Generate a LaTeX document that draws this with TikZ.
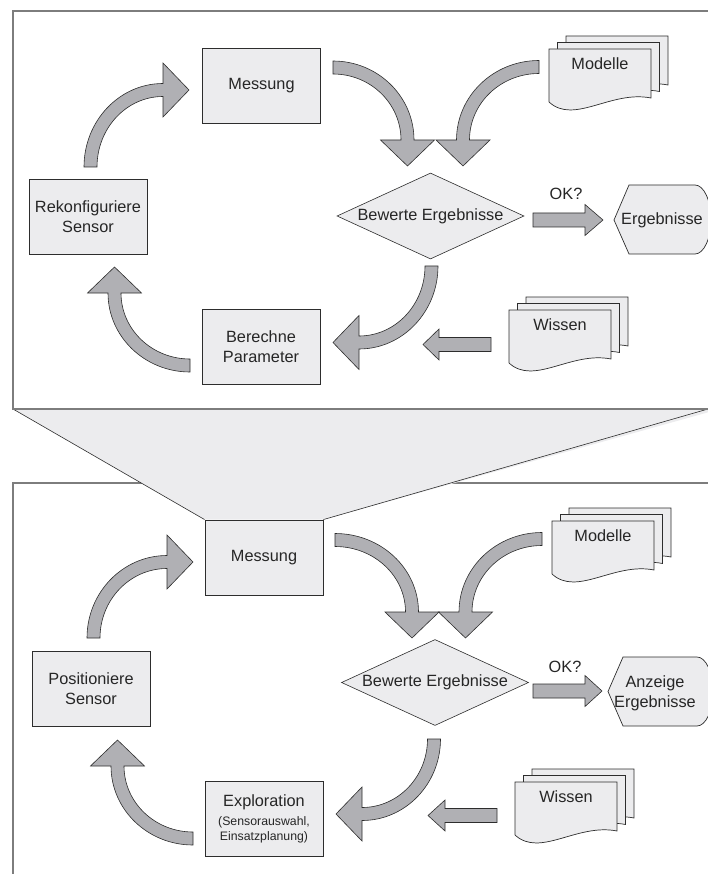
\documentclass[tikz,border=0pt]{standalone}
\usepackage{fontspec}
\setmainfont{Liberation Sans}
\usetikzlibrary{shapes.geometric,backgrounds}

\definecolor{boxgray}{RGB}{236,236,238}
\definecolor{arrowgray}{RGB}{176,176,180}
\definecolor{framegray}{RGB}{125,125,125}
\definecolor{linedark}{RGB}{45,45,45}

\newcommand{\smallfnt}{\fontsize{12.3}{15}\selectfont}

% curved block arrow: centre x, centre y, x radius, y radius, start, end, tip direction
\newcommand{\bendarrow}[7]{%
  \pgfmathsetmacro{\rxo}{#3+6.5}\pgfmathsetmacro{\ryo}{#4+6.5}
  \pgfmathsetmacro{\rxi}{#3-6.5}\pgfmathsetmacro{\ryi}{#4-6.5}
  \pgfmathsetmacro{\bAx}{#1+\rxo*cos(#5)}\pgfmathsetmacro{\bAy}{#2+\ryo*sin(#5)}
  \pgfmathsetmacro{\bHx}{#1+(#3+27)*cos(#6)}\pgfmathsetmacro{\bHy}{#2+(#4+27)*sin(#6)}
  \pgfmathsetmacro{\bTx}{#1+#3*cos(#6)+26*cos(#7)}\pgfmathsetmacro{\bTy}{#2+#4*sin(#6)+26*sin(#7)}
  \pgfmathsetmacro{\bKx}{#1+(#3-27)*cos(#6)}\pgfmathsetmacro{\bKy}{#2+(#4-27)*sin(#6)}
  \pgfmathsetmacro{\bIx}{#1+\rxi*cos(#6)}\pgfmathsetmacro{\bIy}{#2+\ryi*sin(#6)}
  \draw[blockarrow] (\bAx,\bAy)
    arc[start angle=#5, end angle=#6, x radius=\rxo, y radius=\ryo]
    -- (\bHx,\bHy) -- (\bTx,\bTy) -- (\bKx,\bKy) -- (\bIx,\bIy)
    arc[start angle=#6, end angle=#5, x radius=\rxi, y radius=\ryi] -- cycle;
}

% straight block arrow: tail x, head base x, tip x, y
\newcommand{\flatarrow}[4]{%
  \pgfmathsetmacro{\fya}{#4-7}\pgfmathsetmacro{\fyb}{#4+7}
  \pgfmathsetmacro{\fyc}{#4-15.5}\pgfmathsetmacro{\fyd}{#4+15.5}
  \draw[blockarrow] (#1,\fya) -- (#2,\fya) -- (#2,\fyc) -- (#3,#4)
    -- (#2,\fyd) -- (#2,\fyb) -- (#1,\fyb) -- cycle;
}

% stack of three sheets: left x, top y, text, name
\newcommand{\docstack}[4]{%
  \foreach \dx/\dy in {17/13, 8.5/6.5, 0/0}{
    \draw[docsheet] (#1+\dx,#2-\dy) -- (#1+\dx+102,#2-\dy) -- (#1+\dx+102,#2-\dy+49)
      .. controls (#1+\dx+62,#2-\dy+41) and (#1+\dx+25,#2-\dy+76) .. (#1+\dx,#2-\dy+53) -- cycle;
  }
  \node (#4) at (#1+51,#2+15) {#3};
}

\tikzset{
  procbox/.style={draw=linedark, fill=boxgray, line width=0.9pt, minimum width=118pt,
    minimum height=75pt, align=center, inner sep=2pt},
  decision/.style={diamond, draw=linedark, fill=boxgray, line width=0.6pt, minimum width=187pt,
    minimum height=86pt, aspect=2.17, inner sep=0pt},
  docsheet/.style={draw=linedark, fill=boxgray, line width=0.7pt},
  blockarrow/.style={draw=linedark, fill=arrowgray, line width=0.6pt},
  panel/.style={draw=framegray, line width=1.2pt},
  screen/.style={draw=linedark, fill=boxgray, line width=0.7pt},
}

\begin{document}
\begin{tikzpicture}[x=1pt, y=-1pt, font=\fontsize{16.3}{20}\selectfont, text=black!85]
\useasboundingbox (0,0) rectangle (708,874);

%upper loop
\node[procbox] (mess1) at (261.5,86) {Messung};
\node[procbox] (rek1) at (88,216.5) {Rekonfiguriere\\Sensor};
\node[procbox] (ber1) at (261,347) {Berechne\\Parameter};
\node[decision] (bew1) at (430.5,216) {Bewerte Ergebnisse};
\docstack{549}{49}{Modelle}{mod1}
\docstack{509}{310}{Wissen}{wis1}
\draw[screen] (614,220) -- (629,185) -- (695,185)
  arc[start angle=-90, end angle=90, x radius=16, y radius=34.5] -- (629,254) -- cycle;
\node (erg1) at (662,220) {Ergebnisse};
\node (ok1) at (566,194) {OK?};
%arrows
\bendarrow{163}{167}{72.5}{77}{180}{270}{0}
\bendarrow{333}{140}{74.5}{72.5}{270}{360}{90}
\bendarrow{539}{140}{76}{73}{270}{180}{90}
\bendarrow{359}{266}{72.5}{76.5}{0}{90}{180}
\bendarrow{190}{293}{75.5}{72.5}{90}{180}{270}
\flatarrow{533}{585}{603}{220}
\flatarrow{491}{439}{423}{344.5}

%lower loop
\node[procbox] (mess2) at (264,557.5) {Messung};
\node[procbox] (pos2) at (91,688.5) {Positioniere\\Sensor};
\node[procbox] (exp2) at (264,819) {Exploration\\[-1pt]\smallfnt (Sensorauswahl,\\[-5pt]\smallfnt Einsatzplanung)};
\node[decision] (bew2) at (435,682.5) {Bewerte Ergebnisse};
\docstack{552}{521}{Modelle}{mod2}
\docstack{515}{782}{Wissen}{wis2}
\draw[screen] (608,691.5) -- (623,657) -- (697,657)
  arc[start angle=-90, end angle=90, x radius=16, y radius=34.5] -- (623,726) -- cycle;
\node[align=center] (anz2) at (655,693) {Anzeige\\Ergebnisse};
\node (ok2) at (565,667) {OK?};
%arrows
\bendarrow{167}{638}{73.5}{76}{180}{270}{0}
\bendarrow{335}{612}{77}{72}{270}{360}{90}
\bendarrow{542}{612}{76.5}{73}{270}{180}{90}
\bendarrow{362}{739}{72}{75}{0}{90}{180}
\bendarrow{193}{766}{75.5}{72.5}{90}{180}{270}
\flatarrow{533}{585}{602}{691}
\flatarrow{497}{445}{428}{815.5}

%frames and zoom funnel
\begin{scope}[on background layer]
\draw[panel] (720,483) -- (13,483) -- (13,880);
\fill[boxgray] (13,409) -- (720,409) -- (mess2.north east) -- (mess2.north west) -- cycle;
\draw[linedark, line width=0.6pt] (13,409) -- (mess2.north west);
\draw[linedark, line width=0.6pt] (708,409) -- (mess2.north east);
\draw[panel] (720,11) -- (13,11) -- (13,409) -- (720,409);
\end{scope}
\end{tikzpicture}
\end{document}
